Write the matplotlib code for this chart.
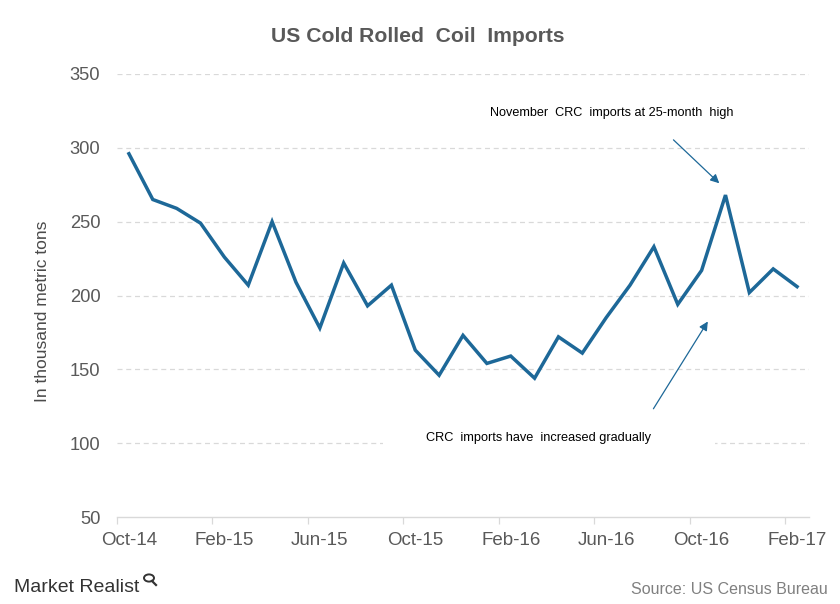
import matplotlib
matplotlib.use("Agg")
import matplotlib.pyplot as plt
from matplotlib import font_manager
from matplotlib.patches import Circle
from matplotlib.lines import Line2D

months = ["Oct-14", "Nov-14", "Dec-14", "Jan-15", "Feb-15", "Mar-15", "Apr-15", "May-15",
          "Jun-15", "Jul-15", "Aug-15", "Sep-15", "Oct-15", "Nov-15", "Dec-15", "Jan-16",
          "Feb-16", "Mar-16", "Apr-16", "May-16", "Jun-16", "Jul-16", "Aug-16", "Sep-16",
          "Oct-16", "Nov-16", "Dec-16", "Jan-17", "Feb-17"]
imports = [296, 265, 259, 249, 226, 207, 250, 209, 178, 222, 193, 207, 163, 146, 173,
           154, 159, 144, 172, 161, 185, 207, 233, 194, 217, 268, 202, 218, 206]
yticks = [50, 100, 150, 200, 250, 300, 350]

names = {f.name for f in font_manager.fontManager.ttflist}
base = "Liberation Sans" if "Liberation Sans" in names else "DejaVu Sans"
narrow = "Liberation Sans Narrow" if "Liberation Sans Narrow" in names else base

plt.rcParams["font.family"] = [base, "DejaVu Sans"]

W, H = 840, 604
fig = plt.figure(figsize=(W / 100, H / 100), dpi=100)
ax = fig.add_axes([117 / W, 1 - 517 / H, (809 - 117) / W, (517 - 74) / H])

line_color = "#1d6898"
grid_color = "#d9d9d9"
text_gray = "#595959"

x = list(range(len(months)))
ax.plot(x, imports, color=line_color, lw=2.5, solid_joinstyle="miter", zorder=3)

ax.set_xlim(-0.5, len(months) - 0.5)
ax.set_ylim(50, 350)
ax.set_yticks(yticks)
ax.set_yticklabels([str(v) for v in yticks])

for v in yticks[1:]:
    ax.axhline(v, color=grid_color, lw=0.9, ls=(0, (4, 3)), zorder=1)

label_pos = x[::4]
ax.set_xticks(label_pos)
ax.set_xticklabels(months[::4])
ax.set_xticks([p - 0.5 for p in label_pos], minor=True)
ax.tick_params(axis="x", which="major", length=0, pad=11, labelsize=13.5, labelcolor=text_gray)
ax.tick_params(axis="x", which="minor", length=5, width=0.9, color=grid_color, direction="out")
ax.tick_params(axis="y", length=0, pad=12, labelsize=13.2, labelcolor=text_gray)

for s in ["top", "right", "left"]:
    ax.spines[s].set_visible(False)
ax.spines["bottom"].set_color(grid_color)
ax.spines["bottom"].set_linewidth(1.0)

ax.set_ylabel("In thousand metric tons", fontsize=12.5, color="#4a4a4a")
ax.yaxis.set_label_coords(-0.097, 0.465)

fig.text(418 / W, 1 - 36 / H, "US Cold Rolled  Coil  Imports", ha="center", va="center",
         fontsize=15.2, fontweight="bold", color=text_gray)

ax.text(20.23, 323.9, "November  CRC  imports at 25-month  high", ha="center", va="center",
        fontsize=9.1, family=[narrow, base], color="#000000", zorder=4)
ax.text(17.17, 103.2, "CRC  imports have  increased gradually", ha="center", va="center",
        fontsize=9.2, family=[narrow, base], color="#000000", zorder=4)
# white gap in the 100 gridline behind the second label
ax.plot([10.65, 24.57], [100, 100], color="white", lw=3, zorder=2, solid_capstyle="butt")

arrow = dict(arrowstyle="-|>", color=line_color, lw=0.9, mutation_scale=13, shrinkA=0, shrinkB=0)
ax.annotate("", xy=(24.74, 276.0), xytext=(22.82, 305.4), arrowprops=arrow, zorder=4)
ax.annotate("", xy=(24.26, 182.4), xytext=(21.98, 123.3), arrowprops=arrow, zorder=4)

fig.text(14 / W, 1 - 587 / H, "Market Realist", ha="left", va="center",
         fontsize=14, family=[narrow, base], color="#333333")
# small magnifier logo
cx, cy = 149 / W, 1 - 578 / H
fig.patches.append(Circle((cx, cy), 5 / W, transform=fig.transFigure, fill=False,
                          ec="#333333", lw=1.4))
fig.lines.append(Line2D([cx + 3 / W, cx + 7 / W], [cy - 3 / H, cy - 7 / H],
                        transform=fig.transFigure, color="#333333", lw=1.6))

fig.text(828 / W, 1 - 589 / H, "Source: US Census Bureau", ha="right", va="center",
         fontsize=11.5, color="#808080")

fig.savefig("out.png", dpi=100, facecolor="white")
